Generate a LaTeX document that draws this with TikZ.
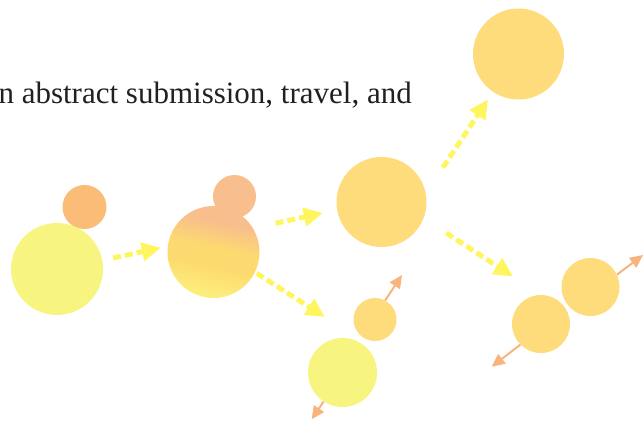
\documentclass[tikz,border=0pt]{standalone}
\usepackage{fontspec}
\setmainfont{Liberation Serif}
\usepackage{xcolor}
\usepackage{tikz}
\usetikzlibrary{arrows.meta, calc}

\definecolor{paleyellow}{HTML}{F7F480}
\definecolor{softorange}{HTML}{FABC76}
\definecolor{peach}{HTML}{F8BE8D}
\definecolor{gold}{HTML}{FEDB7B}
\definecolor{mixgold}{HTML}{FDDA6F}
\definecolor{mixpale}{HTML}{FCF07D}
\definecolor{flowyellow}{HTML}{FFF65F}
\definecolor{spinorange}{HTML}{F8B47F}
\definecolor{inkgray}{HTML}{231F20}

\pgfdeclareverticalshading{mergeshade}{100bp}{color(0bp)=(mixpale); color(25bp)=(mixpale);
  color(42bp)=(mixgold); color(52bp)=(mixgold); color(67bp)=(peach); color(100bp)=(peach)}

\tikzset{
  blob/.style={circle, inner sep=0pt, draw=none},
  flow/.style={draw=flowyellow, line width=5pt, dash pattern=on 8pt off 4pt,
    -{Triangle[length=19pt,width=18pt]}},
  spin/.style={draw=spinorange, line width=2pt,
    -{Triangle[length=13pt,width=12pt]}},
}

\begin{document}
\begin{tikzpicture}[x=1pt, y=-1pt]
    \useasboundingbox (0,0) rectangle (643,423);

      % caption
      \node[anchor=base east, inner sep=0pt, text=inkgray,
        font=\fontsize{31}{36}\selectfont] (caption) at (412,103)
        {n abstract submission, travel, and};

      % circles
      \node[blob, fill=softorange, minimum size=44pt] (seedtop) at (84.5,207) {};
      \node[blob, fill=paleyellow, minimum size=92pt] (seed) at (57,269) {};
      \node[blob, fill=peach, minimum size=43pt] (mergedtop) at (234.5,196.5) {};
      \node[blob, minimum size=92pt, shading=mergeshade, shading angle=-12] (merged) at (213.5,252) {};
      \node[blob, fill=gold, minimum size=90pt] (hub) at (381.5,202) {};
      \node[blob, fill=gold, minimum size=91pt] (apex) at (518.5,54) {};
      \node[blob, fill=gold, minimum size=43pt] (lowsmall) at (375,319.5) {};
      \node[blob, fill=paleyellow, minimum size=69pt] (lowbig) at (342.5,372.5) {};
      \node[blob, fill=gold, minimum size=58pt] (pairA) at (590.5,287) {};
      \node[blob, fill=gold, minimum size=58pt] (pairB) at (541,324) {};

      % free ends
      \coordinate (lowgap) at ($(lowsmall)!0.4!(lowbig)$);
      \coordinate (lowsmall-out) at (402,275);
      \coordinate (lowbig-out) at (311.7,419.3);
      \coordinate (pairA-out) at (643,255);
      \coordinate (pairB-out) at (491.7,366.7);

      % dashed arrows
      \draw[flow, shorten <=11pt, shorten >=7pt] (seed.11) -- (merged.173);
      \draw[flow, shorten <=23pt, shorten >=14.5pt] (merged.31) -- (hub.190);
      \draw[flow, shorten <=2pt, shorten >=44pt] (merged.-26) -- (lowgap);
      \draw[flow, shorten <=31pt, shorten >=9pt] (hub.11) -- (apex.236);
      \draw[flow, shorten <=27pt, shorten >=33.5pt] (hub.-21) -- (pairB.90);

      % thin arrows
      \draw[spin] (lowsmall.62) -- (lowsmall-out);
      \draw[spin] (lowbig.237) -- (lowbig-out);
      \draw[spin] (pairA.25) -- (pairA-out);
      \draw[spin] (pairB.225) -- (pairB-out);
    \end{tikzpicture}
\end{document}
